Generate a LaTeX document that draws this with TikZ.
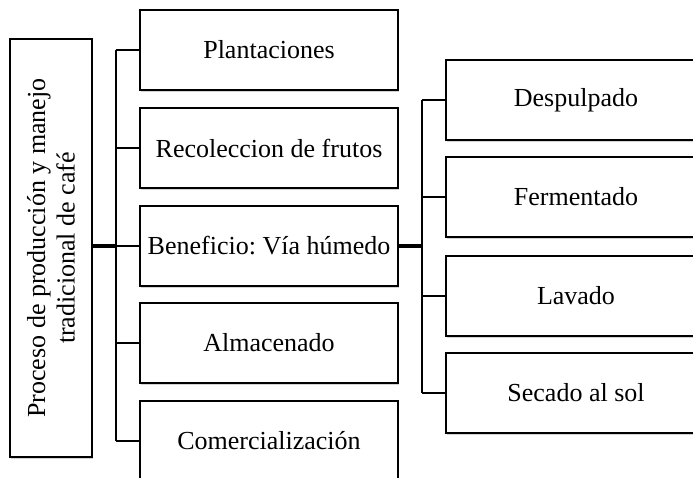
\documentclass[tikz,border=0pt]{standalone}
\usepackage{fontspec}
\setmainfont{Liberation Serif}
\usetikzlibrary{shadows}
\frenchspacing
\tikzset{
  stagebox/.style={draw, line width=1.5pt, fill=white, minimum width=193.5pt, minimum height=60pt,
    inner sep=0pt, font=\fontsize{19.5}{23}\selectfont,
    drop shadow={shadow xshift=1pt, shadow yshift=-1.2pt, opacity=0.35}},
  subbox/.style={stagebox, minimum width=195pt},
  rootbox/.style={draw, line width=1.5pt, fill=white, rotate=90, minimum width=313.5pt, minimum height=61.5pt,
    inner sep=0pt, align=center, font=\fontsize{19.5}{22}\selectfont,
    drop shadow={shadow xshift=1pt, shadow yshift=-1.2pt, opacity=0.35}},
  link/.style={line width=1.5pt},
  mainlink/.style={line width=3pt}
}
\begin{document}
\begin{tikzpicture}[x=0.75pt, y=-0.75pt]
    \useasboundingbox (0,0) rectangle (693,478);
    \clip (0,0) rectangle (693,478);
    % root
    \node[rootbox] (root) at (51,248) {Proceso de producción y manejo\\tradicional de café};
    % stages
    \node[stagebox] (plant) at (269,50) {Plantaciones};
    \node[stagebox] (recol) at (269,148) {Recoleccion de frutos};
    \node[stagebox] (benef) at (269,246) {Beneficio: Vía húmedo};
    \node[stagebox] (almac) at (269,343) {Almacenado};
    \node[stagebox] (comer) at (269,441) {Comercialización};
    % wet process steps
    \node[subbox] (despul) at (576,100) {Despulpado};
    \node[subbox] (ferm) at (576,197) {Fermentado};
    \node[subbox] (lav) at (576,296) {Lavado};
    \node[subbox] (sec) at (576,393) {Secado al sol};
    % connectors
    \coordinate (trunk) at (116,246);
    \coordinate (subtrunk) at (422,246);
    \draw[mainlink] (trunk -| root.south) -- (trunk);
    \draw[line width=1.8pt] (trunk |- plant.west) -- (trunk |- comer.west);
    \foreach \n in {plant,recol,benef,almac,comer}
      \draw[link] (trunk |- \n.west) -- (\n.west);
    \draw[mainlink] (benef.east) -- (subtrunk);
    \draw[line width=1.8pt] (subtrunk |- despul.west) -- (subtrunk |- sec.west);
    \foreach \n in {despul,ferm,lav,sec}
      \draw[link] (subtrunk |- \n.west) -- (\n.west);
  \end{tikzpicture}
\end{document}
